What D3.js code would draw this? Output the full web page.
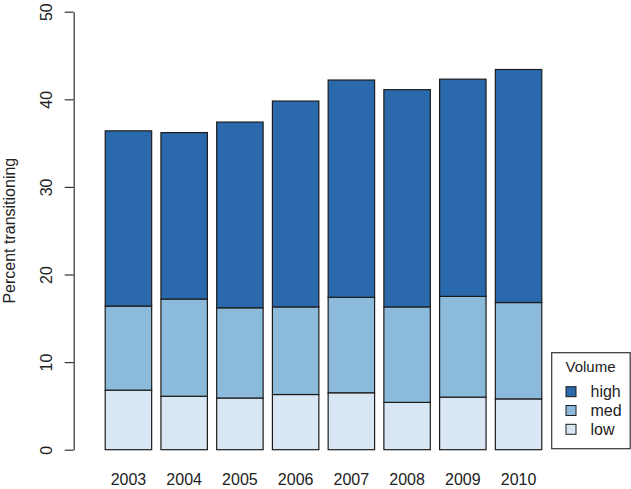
<!DOCTYPE html>
<html>
<head>
<meta charset="utf-8">
<script src="https://cdn.jsdelivr.net/npm/d3@7"></script>
<style>
  body { margin: 0; background: #fff; }
  text { font-family: "Liberation Sans", Arial, sans-serif; fill: #222; }
</style>
</head>
<body>
<div id="chart"></div>
<script>
// data
const years = ["2003", "2004", "2005", "2006", "2007", "2008", "2009", "2010"];
const low  = [6.8, 6.1, 5.9, 6.3, 6.5, 5.4, 6.0, 5.8];
const med  = [9.6, 11.1, 10.3, 10.0, 10.9, 10.9, 11.5, 11.0];
const high = [20.0, 19.0, 21.2, 23.5, 24.8, 24.8, 24.8, 26.6];
const yTicks = [0, 10, 20, 30, 40, 50];
const seriesNames = ["low", "med", "high"];
const colors = { high: "#2a6aac", med: "#8bbada", low: "#d9e6f3" };

const W = 631, H = 489;
const svg = d3.select("#chart").append("svg")
  .attr("width", W).attr("height", H);

const y = d3.scaleLinear().domain([0, 50]).range([449.7, 11.7]);
const x = d3.scaleBand().domain(years).range([95, 552]).paddingInner(0.2 / 1.2).paddingOuter(0.2 / 1.2 / 2 + 0.1);

// stack
const rows = years.map((yr, i) => ({ year: yr, low: low[i], med: med[i], high: high[i] }));
const stacked = d3.stack().keys(seriesNames)(rows);

svg.append("g")
  .selectAll("g")
  .data(stacked)
  .join("g")
  .attr("fill", d => colors[d.key])
  .selectAll("rect")
  .data(d => d)
  .join("rect")
  .attr("x", d => x(d.data.year))
  .attr("width", x.bandwidth())
  .attr("y", d => y(d[1]))
  .attr("height", d => y(d[0]) - y(d[1]))
  .attr("stroke", "#1c1c1c")
  .attr("stroke-width", 1.2);

// y axis (R style, rotated labels)
const yAxis = svg.append("g")
  .attr("transform", "translate(73.7,0)")
  .call(d3.axisLeft(y).tickValues(yTicks).tickSize(9).tickPadding(0).tickSizeOuter(0));
yAxis.select(".domain").attr("stroke", "#333").attr("stroke-width", 1.2);
yAxis.selectAll(".tick line").attr("stroke", "#333").attr("stroke-width", 1.2);
yAxis.selectAll(".tick text")
  .attr("x", null).attr("dy", null)
  .attr("text-anchor", "middle")
  .attr("transform", "translate(-22,0) rotate(-90)")
  .style("font-size", "16px")
  .style("font-family", "'Liberation Sans', Arial, sans-serif")
  .attr("fill", "#222");

svg.append("text")
  .attr("transform", `translate(14.5,${(y(0) + y(50)) / 2}) rotate(-90)`)
  .attr("text-anchor", "middle")
  .style("font-size", "16px")
  .text("Percent transitioning");

// x labels
svg.append("g")
  .selectAll("text")
  .data(years)
  .join("text")
  .attr("x", d => x(d) + x.bandwidth() / 2)
  .attr("y", 485)
  .attr("text-anchor", "middle")
  .style("font-size", "16px")
  .text(d => d);

// legend
const legend = svg.append("g");
legend.append("rect")
  .attr("x", 551.7).attr("y", 352.7)
  .attr("width", 78.5).attr("height", 96)
  .attr("fill", "#fff").attr("stroke", "#333").attr("stroke-width", 1.2);
legend.append("text")
  .attr("x", 590.5).attr("y", 372)
  .attr("text-anchor", "middle")
  .style("font-size", "15px")
  .text("Volume");
const legendKeys = ["high", "med", "low"];
legendKeys.forEach((k, i) => {
  const cy = 391.7 + i * 18.8;
  legend.append("rect")
    .attr("x", 566).attr("y", cy - 5)
    .attr("width", 10).attr("height", 10)
    .attr("fill", colors[k]).attr("stroke", "#1c1c1c").attr("stroke-width", 1);
  legend.append("text")
    .attr("x", 590.5).attr("y", cy + 5.5)
    .style("font-size", "16px")
    .text(k);
});
</script>
</body>
</html>
